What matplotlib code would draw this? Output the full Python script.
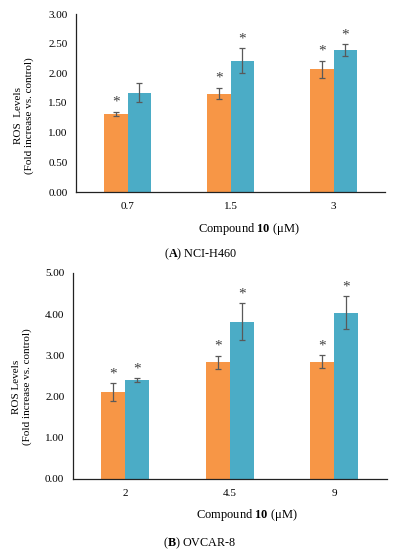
import numpy as np
import matplotlib
matplotlib.use("Agg")
import matplotlib.pyplot as plt

# ========================================================= #
# ===  data                                             === #
# ========================================================= #
doses_A     = ["0.7", "1.5", "3"]
orange_A    = [1.32, 1.66, 2.07]
orange_A_er = [0.035, 0.10, 0.145]
blue_A      = [1.67, 2.21, 2.39]
blue_A_er   = [0.16, 0.21, 0.105]
star_or_A   = [True, True, True]
star_bl_A   = [False, True, True]

doses_B     = ["2", "4.5", "9"]
orange_B    = [2.11, 2.83, 2.85]
orange_B_er = [0.21, 0.165, 0.155]
blue_B      = [2.40, 3.82, 4.04]
blue_B_er   = [0.05, 0.445, 0.40]
star_or_B   = [True, True, True]
star_bl_B   = [True, True, True]

c_orange = "#F79646"
c_blue   = "#4BACC6"
c_err    = "#595959"

plt.rcParams["font.family"] = ["Liberation Serif", "DejaVu Serif"]
plt.rcParams["mathtext.fontset"] = "custom"
plt.rcParams["mathtext.rm"] = "Liberation Serif"
plt.rcParams["mathtext.bf"] = "Liberation Serif:bold"

W, H = 395, 550
fig = plt.figure(figsize=(W / 100, H / 100), dpi=100)


def panel(rect, labels, ov, oe, bv, be, so, sb, ymax, ystep):
    ax = fig.add_axes(rect)
    x = np.arange(len(labels))
    w = 0.23
    ax.bar(x - w / 2, ov, width=w, color=c_orange, zorder=2)
    ax.bar(x + w / 2, bv, width=w, color=c_blue, zorder=2)
    ax.errorbar(x - w / 2, ov, yerr=oe, fmt="none", ecolor=c_err,
                elinewidth=0.9, capsize=2.5, capthick=0.9, zorder=3)
    ax.errorbar(x + w / 2, bv, yerr=be, fmt="none", ecolor=c_err,
                elinewidth=0.9, capsize=2.5, capthick=0.9, zorder=3)
    for xi, v, e, s in zip(x - w / 2, ov, oe, so):
        if s:
            ax.annotate("*", (xi, v + e), xytext=(0, 2), textcoords="offset points",
                        ha="center", va="bottom", fontsize=11, color="#404040")
    for xi, v, e, s in zip(x + w / 2, bv, be, sb):
        if s:
            ax.annotate("*", (xi, v + e), xytext=(0, 2), textcoords="offset points",
                        ha="center", va="bottom", fontsize=11, color="#404040")
    ax.set_xlim(-0.5, len(labels) - 0.5)
    ax.set_ylim(0, ymax)
    ax.set_xticks(x)
    ax.set_xticklabels(labels, fontsize=8)
    yt = np.arange(0, ymax + 1e-9, ystep)
    ax.set_yticks(yt)
    ax.set_yticklabels(["{0:.2f}".format(v) for v in yt], fontsize=8)
    ax.tick_params(length=0, pad=6)
    ax.tick_params(axis="x", pad=7)
    for sp in ["top", "right"]:
        ax.spines[sp].set_visible(False)
    for sp in ["left", "bottom"]:
        ax.spines[sp].set_color("#222222")
        ax.spines[sp].set_linewidth(0.9)
    return ax


# --- panel A --- #
panel([76 / W, 1 - 192 / H, 309 / W, 178 / H], doses_A,
      orange_A, orange_A_er, blue_A, blue_A_er, star_or_A, star_bl_A, 3.0, 0.5)
fig.text(24 / W, 1 - 116 / H, "ROS  Levels\n(Fold increase vs. control)",
         rotation=90, ha="center", va="center", fontsize=8, linespacing=1.1)
fig.text(249 / W, 1 - 229 / H, r"Compound $\mathbf{10}$ (μM)",
         ha="center", va="center", fontsize=9)
fig.text(201 / W, 1 - 254 / H, r"($\mathbf{A}$) NCI-H460",
         ha="center", va="center", fontsize=8.7)

# --- panel B --- #
panel([72.7 / W, 1 - 479 / H, 314 / W, 206 / H], doses_B,
      orange_B, orange_B_er, blue_B, blue_B_er, star_or_B, star_bl_B, 5.0, 1.0)
fig.text(22 / W, 1 - 387 / H, "ROS Levels\n(Fold increase vs. control)",
         rotation=90, ha="center", va="center", fontsize=8, linespacing=1.1)
fig.text(247 / W, 1 - 515 / H, r"Compound $\mathbf{10}$ (μM)",
         ha="center", va="center", fontsize=9)
fig.text(200 / W, 1 - 543 / H, r"($\mathbf{B}$) OVCAR-8",
         ha="center", va="center", fontsize=8.7)

fig.savefig("out.png", dpi=100)
